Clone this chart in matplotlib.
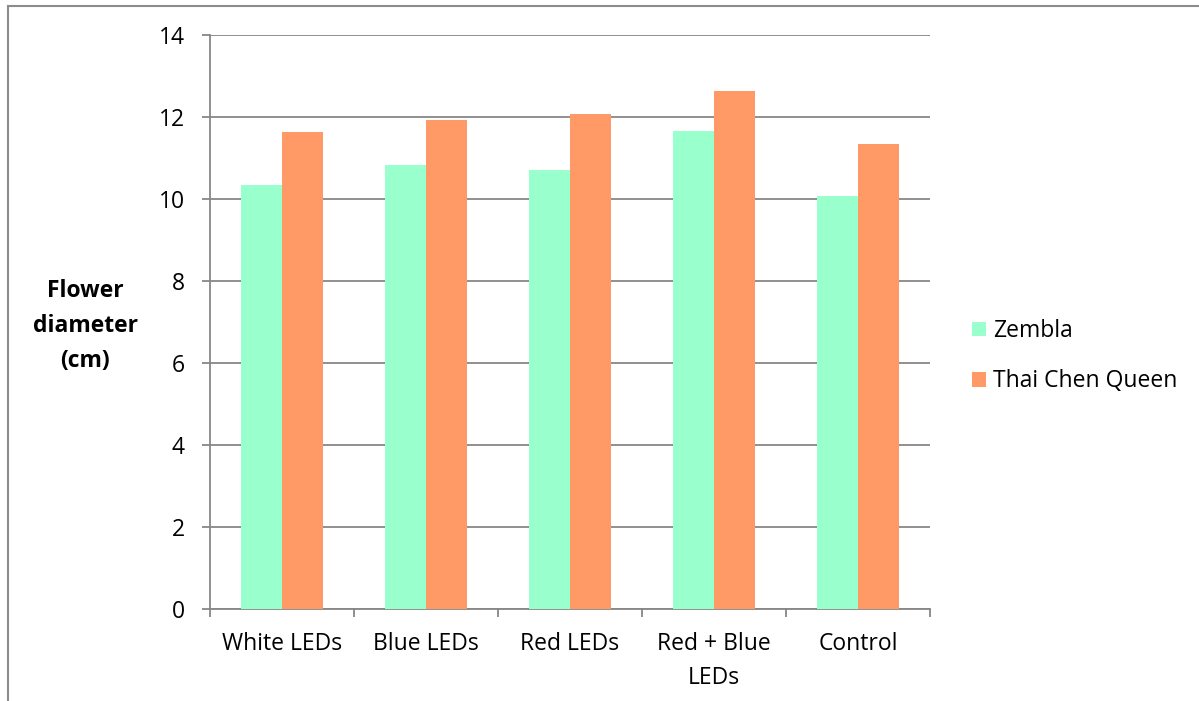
import matplotlib
matplotlib.use("Agg")
import matplotlib.pyplot as plt
from matplotlib.lines import Line2D
import numpy as np

categories = ["White LEDs", "Blue LEDs", "Red LEDs", "Red + Blue\nLEDs", "Control"]
zembla = [10.33, 10.82, 10.70, 11.66, 10.06]
thai_chen_queen = [11.63, 11.92, 12.06, 12.62, 11.33]
series_names = ["Zembla", "Thai Chen Queen"]
colors = ["#99FFCC", "#FF9966"]
y_ticks = [0, 2, 4, 6, 8, 10, 12, 14]

plt.rcParams["font.family"] = ["Open Sans", "DejaVu Sans"]
grey = "#878787"
fs = 16.5

fig = plt.figure(figsize=(11.99, 7.01), dpi=100)
ax = fig.add_axes([0.1751, 0.1317, 0.6005, 0.8188])

x = np.arange(len(categories))
w = 0.285
ax.bar(x - w / 2, zembla, w, color=colors[0], label=series_names[0], zorder=3)
ax.bar(x + w / 2, thai_chen_queen, w, color=colors[1], label=series_names[1], zorder=3)

ax.set_xlim(-0.5, len(categories) - 0.5)
ax.set_ylim(0, 14)
ax.set_yticks(y_ticks)
ax.set_yticklabels([str(t) for t in y_ticks], fontsize=fs)
ax.yaxis.grid(True, color=grey, linewidth=1.3, zorder=0)
ax.set_axisbelow(True)

# category labels centred in each slot, tick marks on the slot boundaries
ax.set_xticks(x)
ax.set_xticklabels(categories, fontsize=fs, linespacing=1.6)
ax.tick_params(axis="x", length=0, pad=16.5)
ax.set_xticks(np.arange(len(categories) + 1) - 0.5, minor=True)
ax.tick_params(axis="x", which="minor", length=6, color=grey, width=1.3)
ax.tick_params(axis="y", length=6, color=grey, width=1.3, pad=12)

for side in ["top", "right"]:
    ax.spines[side].set_visible(False)
for side in ["left", "bottom"]:
    ax.spines[side].set_color(grey)
    ax.spines[side].set_linewidth(1.3)

fig.text(0.071, 0.535, "Flower\ndiameter\n(cm)", ha="center", va="center",
         fontsize=fs, fontweight="bold", linespacing=1.62)

leg = ax.legend(loc="center left", bbox_to_anchor=(1.030, 0.44), frameon=False,
                fontsize=fs, handlelength=0.6, handleheight=0.6,
                handletextpad=0.3, labelspacing=1.15)

# outer chart-area border (left and top edges)
fig.add_artist(Line2D([0.0067, 0.0067], [0, 0.9914], color="#8c8c8c", lw=1.5,
                      transform=fig.transFigure))
fig.add_artist(Line2D([0.0067, 1.0], [0.9914, 0.9914], color="#8c8c8c", lw=1.5,
                      transform=fig.transFigure))

fig.savefig("out.png", dpi=100)
